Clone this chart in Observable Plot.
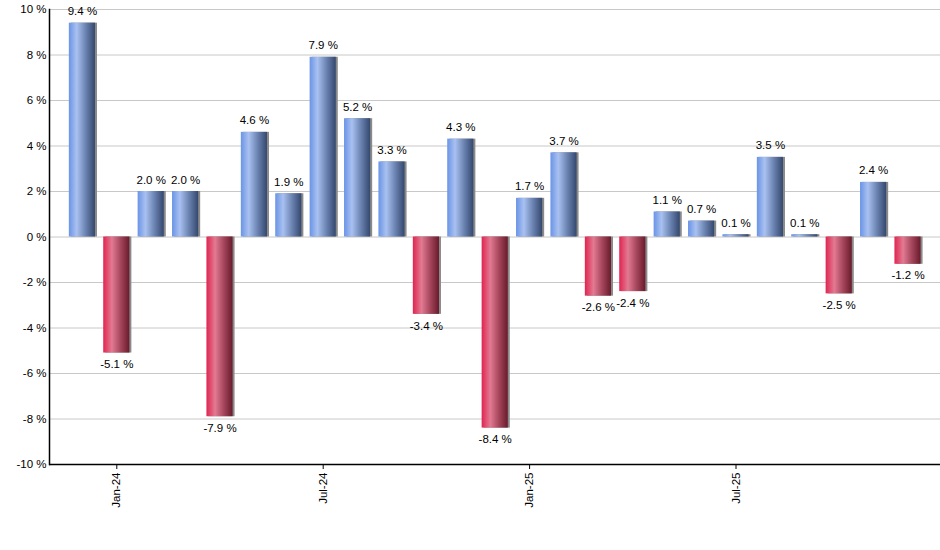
<!DOCTYPE html>
<html>
<head>
<meta charset="utf-8">
<script src="https://cdn.jsdelivr.net/npm/d3@7"></script>
<script src="https://cdn.jsdelivr.net/npm/@observablehq/plot@0.6"></script>
<style>
html, body { margin: 0; padding: 0; background: #fff; }
#chart svg { display: block; font-family: "Liberation Sans", Arial, sans-serif; }
</style>
</head>
<body>
<div id="chart"></div>
<script>
const months = ["Dec-23","Jan-24","Feb-24","Mar-24","Apr-24","May-24","Jun-24","Jul-24","Aug-24","Sep-24","Oct-24","Nov-24","Dec-24","Jan-25","Feb-25","Mar-25","Apr-25","May-25","Jun-25","Jul-25","Aug-25","Sep-25","Oct-25","Nov-25","Dec-25"];
const values = [9.4, -5.1, 2.0, 2.0, -7.9, 4.6, 1.9, 7.9, 5.2, 3.3, -3.4, 4.3, -8.4, 1.7, 3.7, -2.6, -2.4, 1.1, 0.7, 0.1, 3.5, 0.1, -2.5, 2.4, -1.2];
const xTickLabels = ["Jan-24","Jul-24","Jan-25","Jul-25"];
const yTicks = [-10, -8, -6, -4, -2, 0, 2, 4, 6, 8, 10];

const data = months.map((m, i) => ({month: m, value: values[i]}));
const pos = data.filter(d => d.value >= 0);
const neg = data.filter(d => d.value < 0);

const chart = Plot.plot({
  width: 940,
  height: 550,
  marginLeft: 49,
  marginRight: 0,
  marginTop: 9,
  marginBottom: 86,
  style: {fontSize: "11.5px", fontFamily: "Liberation Sans, Arial, sans-serif", color: "#000"},
  x: {type: "band", domain: months, range: [64.7, 924.7], paddingInner: 0.24, paddingOuter: 0.12, round: false},
  y: {domain: [-10, 10]},
  marks: [
    Plot.gridY(yTicks, {stroke: "#c8c8c8", strokeOpacity: 1}),
    Plot.barY(data, {x: "month", y: "value", fill: "#8a8a8a", dx: 2}),
    Plot.barY(pos, {x: "month", y: "value", fill: "url(#gBlue)"}),
    Plot.barY(neg, {x: "month", y: "value", fill: "url(#gRed)"}),
    Plot.text(pos, {x: "month", y: "value", text: d => d.value.toFixed(1) + " %", lineAnchor: "bottom", dy: -8, fill: "#000"}),
    Plot.text(neg, {x: "month", y: "value", text: d => d.value.toFixed(1) + " %", lineAnchor: "top", dy: 7, fill: "#000"}),
    Plot.axisY(yTicks, {tickSize: 0, tickPadding: 3, tickFormat: d => d + " %", label: null, fill: "#000"}),
    Plot.axisX(xTickLabels, {tickRotate: -90, tickSize: 5, tickPadding: 3, label: null, stroke: "#000", fill: "#000"}),
    Plot.ruleY([-10], {stroke: "#000", strokeWidth: 1.5}),
    Plot.frame({anchor: "left", stroke: "#000", strokeWidth: 1.5})
  ]
});

d3.select(chart).insert("defs", ":first-child").html(`
  <linearGradient id="gBlue" x1="0" y1="0" x2="1" y2="0">
    <stop offset="0" stop-color="#6a94e6"/>
    <stop offset="0.3" stop-color="#a9c1f0"/>
    <stop offset="0.65" stop-color="#6a82b0"/>
    <stop offset="1" stop-color="#34486e"/>
  </linearGradient>
  <linearGradient id="gRed" x1="0" y1="0" x2="1" y2="0">
    <stop offset="0" stop-color="#e02450"/>
    <stop offset="0.33" stop-color="#e27a92"/>
    <stop offset="0.65" stop-color="#a8485e"/>
    <stop offset="1" stop-color="#6a1a2c"/>
  </linearGradient>
`);

document.getElementById("chart").appendChild(chart);
</script>
</body>
</html>
